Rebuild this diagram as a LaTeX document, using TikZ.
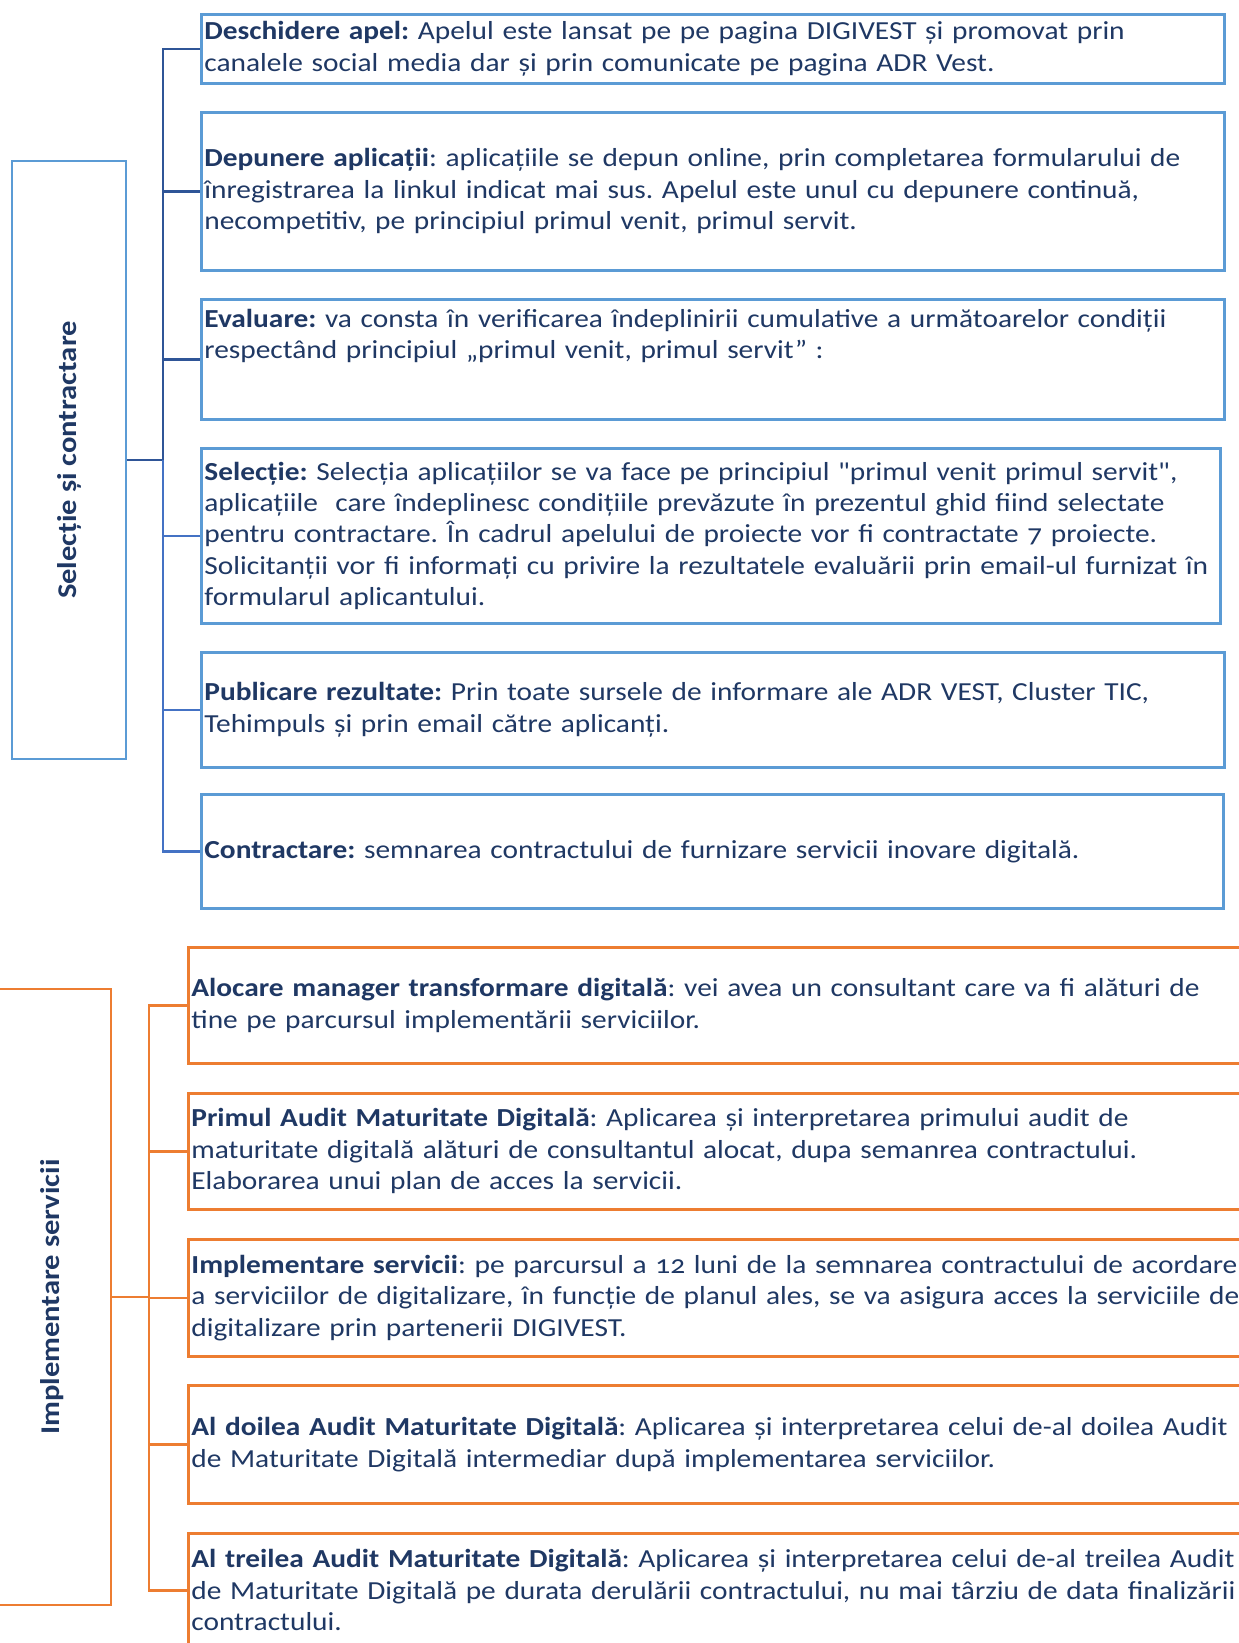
\documentclass[tikz,border=0pt]{standalone}
\usepackage{fontspec}
\newfontfamily\bodyfont{Carlito}[Numbers=OldStyle, FakeStretch=1.13]
\usepackage{xcolor}
\definecolor{textnavy}{HTML}{1F3864}
\definecolor{boxblue}{HTML}{5B9BD5}
\definecolor{linedark}{HTML}{2F5597}
\definecolor{linemid}{HTML}{4472C4}
\definecolor{boxorange}{HTML}{ED7D31}
\newlength\px
\setlength\px{0.02cm}
\tikzstyle{txt} = [text=textnavy, font=\bodyfont\frenchspacing\fontsize{14.8}{17.9}\selectfont]
\tikzstyle{bluebox} = [txt, draw=boxblue, line width=1.6pt, anchor=north west, align=left, inner xsep=3\px, inner ysep=0pt, text width=1017\px]
\tikzstyle{orangebox} = [txt, draw=boxorange, line width=1.6pt, anchor=north west, align=left, inner xsep=3\px, inner ysep=0pt, text width=1069\px]
\tikzstyle{sidelabel} = [txt, rotate=90, font=\bodyfont\fontsize{15.4}{19}\selectfont\bfseries]
\tikzstyle{bluelink} = [draw, line width=1.6pt]
\tikzstyle{orangelink} = [draw=boxorange, line width=1.6pt]

\begin{document}
\begin{tikzpicture}[x=0.02cm, y=-0.02cm]
      \useasboundingbox (0,0) rectangle (1238,1643);

      % Selectie si contractare
      \node[draw=boxblue, line width=1.6pt, minimum width=114\px, minimum height=598\px] (sel) at (69,460) {};
      \node[sidelabel] (selt) at (sel.center) {Selecție și contractare};

      \node[bluebox, minimum height=69\px] (b1) at (200,13)
        {\textbf{Deschidere apel:} Apelul este lansat pe pe pagina DIGIVEST și promovat prin\\
         canalele social media dar și prin comunicate pe pagina ADR Vest.};
      \node[bluebox, minimum height=158\px] (b2) at (200,111)
        {\textbf{Depunere aplicații}: aplicațiile se depun online, prin completarea formularului de\\
         înregistrarea la linkul indicat mai sus. Apelul este unul cu depunere continuă,\\
         necompetitiv, pe principiul primul venit, primul servit.};
      \node[bluebox, minimum height=120\px, text height=20\px, text depth=84\px] (b3) at (200,298)
        {\textbf{Evaluare:} va consta în verificarea îndeplinirii cumulative a următoarelor condiții\\
         respectând principiul „primul venit, primul servit” :};
      \node[bluebox, minimum height=175\px, text width=1013\px] (b4) at (200,447)
        {\textbf{Selecție:} Selecția aplicațiilor se va face pe principiul "primul venit primul servit",\\
         aplicațiile\ \ care îndeplinesc condițiile prevăzute în prezentul ghid fiind selectate\\
         pentru contractare. În cadrul apelului de proiecte vor fi contractate 7 proiecte.\\
         Solicitanții vor fi informați cu privire la rezultatele evaluării prin email-ul furnizat în\\
         formularul aplicantului.};
      \node[bluebox, minimum height=115\px] (b5) at (200,651)
        {\textbf{Publicare rezultate:} Prin toate sursele de informare ale ADR VEST, Cluster TIC,\\
         Tehimpuls și prin email către aplicanți.};
      \node[bluebox, minimum height=114\px, text width=1016\px] (b6) at (200,793)
        {\textbf{Contractare:} semnarea contractului de furnizare servicii inovare digitală.};

      \coordinate (sj) at (163,460);
      \draw[bluelink, linedark] (sel.east) -- (sj);
      \draw[bluelink, linedark] (sj) |- (b1.west);
      \draw[bluelink, linedark] (sj) |- (b2.west);
      \draw[bluelink, linedark] (sj) |- (b3.west);
      \draw[bluelink, linemid] (sj) |- (b4.west);
      \draw[bluelink, linemid] (sj) |- (b5.west);
      \draw[bluelink, linemid] (sj) |- (b6.west);

      % Implementare servicii
      \node[draw=boxorange, line width=1.6pt, minimum width=117\px, minimum height=616\px] (imp) at (52.5,1297) {};
      \node[sidelabel] (impt) at (imp.center) {Implementare servicii};

      \node[orangebox, minimum height=116\px] (o1) at (187,946)
        {\textbf{Alocare manager transformare digitală}: vei avea un consultant care va fi alături de\\
         tine pe parcursul implementării serviciilor.};
      \node[orangebox, minimum height=116\px] (o2) at (187,1092)
        {\textbf{Primul Audit Maturitate Digitală}: Aplicarea și interpretarea primului audit de\\
         maturitate digitală alături de consultantul alocat, dupa semanrea contractului.\\
         Elaborarea unui plan de acces la servicii.};
      \node[orangebox, minimum height=117\px] (o3) at (187,1238)
        {\textbf{Implementare servicii}: pe parcursul a 12 luni de la semnarea contractului de acordare\\
         a serviciilor de digitalizare, în funcție de planul ales, se va asigura acces la serviciile de\\
         digitalizare prin partenerii DIGIVEST.};
      \node[orangebox, minimum height=118\px] (o4) at (187,1384)
        {\textbf{Al doilea Audit Maturitate Digitală}: Aplicarea și interpretarea celui de-al doilea Audit\\
         de Maturitate Digitală intermediar după implementarea serviciilor.};
      \node[orangebox, minimum height=114\px] (o5) at (187,1532)
        {\textbf{Al treilea Audit Maturitate Digitală}: Aplicarea și interpretarea celui de-al treilea Audit\\
         de Maturitate Digitală pe durata derulării contractului, nu mai târziu de data finalizării\\
         contractului.};

      \coordinate (ij) at (149,1297);
      \draw[orangelink] (imp.east) -- (ij);
      \draw[orangelink] (ij) |- (o1.west);
      \draw[orangelink] (ij) |- (o2.west);
      \draw[orangelink] (ij) |- (o3.west);
      \draw[orangelink] (ij) |- (o4.west);
      \draw[orangelink] (ij) |- (o5.west);
\end{tikzpicture}
\end{document}
